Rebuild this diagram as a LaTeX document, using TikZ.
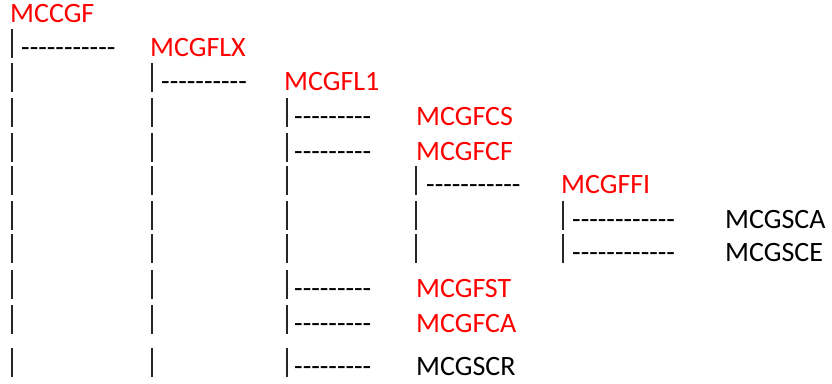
\documentclass[tikz,border=0pt]{standalone}
\usepackage{fontspec}
\setmainfont{Carlito}[Ligatures=TeXOff]
\begin{document}
\begin{tikzpicture}[x=1pt,y=-1pt,
  t/.style={anchor=base west, inner sep=0pt, font=\fontsize{28}{30}\selectfont},
  barline/.style={draw=black!85, line width=1.4pt},
  dsh/.style={t},
  lab/.style={t, text=red},
  labk/.style={t, text=black}]
\useasboundingbox (0,0) rectangle (832,383);
% bars
\foreach \yy/\nn [count=\r] in {56/1,90/2,125/3,160/3,193/4,228/5,261/5,297/3,332/3,375/3}{
  \foreach \xx [count=\c] in {12,152,287,416,563}{
    \ifnum\c>\nn\relax\else
      \coordinate (bt-\r-\c) at (\xx,\yy-27);
      \coordinate (bb-\r-\c) at (\xx,\yy+2);
      \draw[barline] (bt-\r-\c) -- (bb-\r-\c);
    \fi
  }
}
% labels
\node[lab] (mccgf) at (10,22) {MCCGF};
\node[dsh] (d1) at (21,56) {-----------};
\node[lab] (mcgflx) at (150,56) {MCGFLX};
\node[dsh] (d2) at (161,90) {----------};
\node[lab] (mcgfl1) at (284,90) {MCGFL1};
\node[dsh] (d3) at (294,125) {---------};
\node[lab] (mcgfcs) at (416,125) {MCGFCS};
\node[dsh] (d4) at (294,160) {---------};
\node[lab] (mcgfcf) at (416,160) {MCGFCF};
\node[dsh] (d5) at (426,193) {-----------};
\node[lab] (mcgffi) at (561,193) {MCGFFI};
\node[dsh] (d6) at (572,228) {------------};
\node[labk] (mcgsca) at (725,228) {MCGSCA};
\node[dsh] (d7) at (572,261) {------------};
\node[labk] (mcgsce) at (725,261) {MCGSCE};
\node[dsh] (d8) at (294,297) {---------};
\node[lab] (mcgfst) at (416,297) {MCGFST};
\node[dsh] (d9) at (294,332) {---------};
\node[lab] (mcgfca) at (416,332) {MCGFCA};
\node[dsh] (d10) at (294,375) {---------};
\node[labk] (mcgscr) at (416,375) {MCGSCR};
\end{tikzpicture}
\end{document}
